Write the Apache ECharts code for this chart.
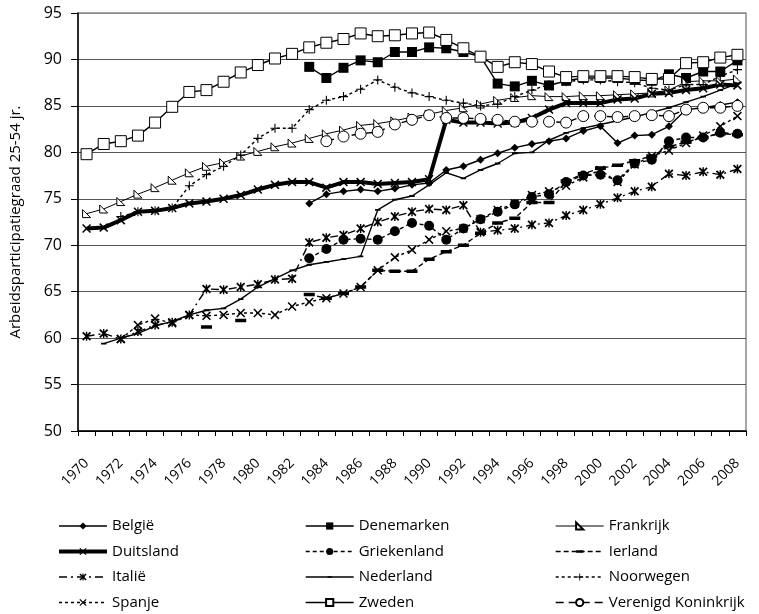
<!DOCTYPE html>
<html><head><meta charset="utf-8">
<script src="https://cdn.jsdelivr.net/npm/echarts@6/dist/echarts.min.js"></script>
<style>html,body{margin:0;padding:0;background:#fff}#c{width:759px;height:614px}</style>
</head><body><div id="c"></div><script>
const years = ['1970','1971','1972','1973','1974','1975','1976','1977','1978','1979','1980','1981','1982','1983','1984','1985','1986','1987','1988','1989','1990','1991','1992','1993','1994','1995','1996','1997','1998','1999','2000','2001','2002','2003','2004','2005','2006','2007','2008'];
const N = null;
const belgie = [N,N,N,N,N,N,N,N,N,N,N,N,N, 74.5,75.5,75.8,76.0,75.8,76.1,76.5,76.7,78.1,78.5,79.2,79.9,80.5, 80.9,81.2,81.5,82.3,82.8,81.0,81.8,81.9,82.8,84.6,84.8,85.1,85.4];
const denemarken = [N,N,N,N,N,N,N,N,N,N,N,N,N, 89.2,88.0,89.1,89.9,89.7,90.8,90.8,91.3,91.2,90.8,90.3,87.4,87.1, 87.7,87.2,87.7,88.0,88.0,88.0,87.8,87.7,88.4,88.0,88.7,88.7,89.9];
const frankrijk = [73.4,73.9,74.7,75.5,76.2,77.0,77.8,78.5,78.9,79.6,80.1,80.6,81.0, 81.5,82.0,82.4,82.9,83.1,83.4,83.8,84.1,84.5,84.8,85.2,85.6,85.9, 86.1,86.0,86.0,86.1,86.1,86.2,86.3,86.4,86.7,87.6,87.7,87.7,87.9];
const duitsland = [71.8,71.9,72.7,73.6,73.7,74.0,74.5,74.7,75.0,75.4,76.0,76.5,76.8, 76.8,76.2,76.8,76.8,76.6,76.7,76.8,77.1,83.5,83.2,83.2,83.1,83.2, 83.7,84.6,85.3,85.3,85.3,85.7,85.8,86.3,86.4,86.7,86.9,87.3,87.2];
const griekenland = [N,N,N,N,N,N,N,N,N,N,N,N,N, 68.6,69.6,70.6,70.7,70.6,71.5,72.4,72.1,70.6,71.8,72.8,73.6,74.4, 75.2,75.5,76.8,77.5,77.6,77.0,78.8,79.2,81.2,81.6,81.6,82.1,82.0];
const ierland = [N,N,N,N,N,N,N,61.2,N,61.9,N,N,N, 64.7,64.3,64.8,65.5,67.3,67.2,67.2,68.5,69.3,70.0,71.3,72.4,72.9, 74.6,74.6,76.9,77.7,78.3,78.6,79.1,79.6,80.6,81.1,81.6,82.0,81.9];
const italie = [60.2,60.5,59.9,60.7,61.4,61.7,62.5,65.3,65.2,65.5,65.8,66.3,66.4, 70.3,70.8,71.1,71.8,72.5,73.1,73.6,73.9,73.8,74.3,71.4,71.6,71.8, 72.2,72.4,73.2,73.8,74.4,75.1,75.8,76.3,77.7,77.5,77.9,77.6,78.2];
const nederland = [N,59.4,60.0,60.5,61.3,61.8,62.5,63.0,63.2,64.2,65.5,66.4,67.3, 67.9,68.2,68.5,68.8,73.8,74.9,75.3,76.5,77.8,77.2,78.1,78.8,79.9, 80.0,81.3,82.1,82.6,83.0,83.4,83.8,84.3,84.8,85.4,86.0,86.7,87.4];
const noorwegen = [N,N,73.1,73.6,73.7,74.0,76.4,77.6,78.5,79.7,81.5,82.6,82.6, 84.6,85.6,86.0,86.8,87.8,87.0,86.4,86.0,85.6,85.3,85.0,85.2,86.0, 86.7,87.3,87.6,87.8,87.8,87.6,87.5,86.9,86.7,87.3,87.3,88.2,88.9];
const spanje = [N,N,59.9,61.4,62.1,61.6,62.5,62.4,62.5,62.7,62.7,62.5,63.4, 63.9,64.3,64.8,65.5,67.3,68.7,69.5,70.6,71.5,71.8,72.8,73.8,74.5, 75.4,75.8,76.4,77.3,78.1,76.8,78.7,79.6,80.2,81.0,81.8,82.8,83.9];
const zweden = [79.8,80.9,81.2,81.8,83.2,84.9,86.5,86.7,87.6,88.6,89.4,90.1,90.6, 91.3,91.8,92.2,92.8,92.5,92.6,92.8,92.9,92.1,91.2,90.3,89.2,89.7, 89.5,88.7,88.1,88.2,88.2,88.2,88.1,87.9,87.9,89.6,89.7,90.2,90.5];
const vk = [N,N,N,N,N,N,N,N,N,N,N,N,N,N, 81.2,81.7,82.0,82.2,83.0,83.5,84.0,83.7,83.7,83.6,83.5,83.3, 83.3,83.3,83.2,83.9,83.9,83.8,83.9,84.0,83.9,84.6,84.8,84.8,85.0];
const yTicks = [50,55,60,65,70,75,80,85,90,95];
const yName = 'Arbeidsparticipatiegraad 25-54 jr.';

const FONT = 'Open Sans';
// invisible corner points keep path bounding boxes square
const BOX = ' M0,0 L0,0 Z M10,10 L10,10 Z';
const X_PATH = 'path://M0,1.2 L1.2,0 L5,3.8 L8.8,0 L10,1.2 L6.2,5 L10,8.8 L8.8,10 L5,6.2 L1.2,10 L0,8.8 L3.8,5 Z';
const PLUS_PATH = 'path://M4.4,0 L5.6,0 L5.6,4.4 L10,4.4 L10,5.6 L5.6,5.6 L5.6,10 L4.4,10 L4.4,5.6 L0,5.6 L0,4.4 L4.4,4.4 Z';
const AST_PATH = 'path://M0,1.4 L1.4,0 L5,3.6 L8.6,0 L10,1.4 L6.4,5 L10,8.6 L8.6,10 L5,6.4 L1.4,10 L0,8.6 L3.6,5 Z M4.2,0 L5.8,0 L5.8,10 L4.2,10 Z';
const TRI_PATH = 'path://M0,0 L10,10 L0,10 Z';
const BAR_PATH = 'path://M0,3.4 L10,3.4 L10,6.6 L0,6.6 Z' + BOX;
const SMALLBAR_PATH = 'path://M2,4 L8,4 L8,6 L2,6 Z' + BOX;

function mk(name, data, o) {
  return {
    name, type: 'line', data, connectNulls: false,
    showSymbol: true, showAllSymbol: true,
    symbol: o.symbol, symbolSize: o.size,
    lineStyle: { color: '#000', width: o.w || 1.4, type: o.dash || 'solid' },
    itemStyle: o.open ? { color: '#fff', borderColor: '#000', borderWidth: 1 } : { color: '#000', borderWidth: 0 },
    emphasis: { disabled: true },
    animation: false,
    z: o.z || 2
  };
}

const series = [
  mk('België', belgie, { symbol: 'diamond', size: 8 }),
  mk('Denemarken', denemarken, { symbol: 'rect', size: 10 }),
  mk('Frankrijk', frankrijk, { symbol: TRI_PATH, size: 8, open: true, w: 1 }),
  mk('Duitsland', duitsland, { symbol: X_PATH, size: 9, w: 4 }),
  mk('Griekenland', griekenland, { symbol: 'circle', size: 10, dash: [4, 3] }),
  mk('Ierland', ierland, { symbol: BAR_PATH, size: 11, dash: [5, 3] }),
  mk('Italië', italie, { symbol: AST_PATH, size: 9, dash: [8, 4, 2, 4] }),
  mk('Nederland', nederland, { symbol: SMALLBAR_PATH, size: 9 }),
  mk('Noorwegen', noorwegen, { symbol: PLUS_PATH, size: 9, dash: [3, 3] }),
  mk('Spanje', spanje, { symbol: X_PATH, size: 9, dash: [3, 3] }),
  mk('Zweden', zweden, { symbol: 'rect', size: 11, open: true }),
  mk('Verenigd Koninkrijk', vk, { symbol: 'circle', size: 11, open: true, dash: [8, 5] })
];

function legend(left, names) {
  return {
    orient: 'vertical', left, top: 518, height: 96, padding: 0,
    data: names.map(n => n === 'Duitsland' ? { name: n, lineStyle: { width: 4 } } : { name: n }),
    itemWidth: 48, itemHeight: 9, itemGap: 9.5,
    selectedMode: false,
    lineStyle: { width: 'inherit' },
    textStyle: { fontFamily: FONT, fontSize: 15, lineHeight: 16, color: '#000' }
  };
}

const chart = echarts.init(document.getElementById('c'), null, { renderer: 'canvas' });
chart.setOption({
  animation: false,
  backgroundColor: '#fff',
  grid: { left: 78, right: 13, top: 13, bottom: 183, show: true, borderColor: '#8a8a8a', borderWidth: 1.5, containLabel: false },
  legend: [
    legend(57, ['België', 'Duitsland', 'Italië', 'Spanje']),
    legend(305, ['Denemarken', 'Griekenland', 'Nederland', 'Zweden']),
    legend(555, ['Frankrijk', 'Ierland', 'Noorwegen', 'Verenigd Koninkrijk'])
  ],
  xAxis: {
    type: 'category', data: years, boundaryGap: true,
    axisLine: { lineStyle: { color: '#000', width: 1.5 } },
    axisTick: { show: true, interval: 0, length: 5, lineStyle: { color: '#000' } },
    axisLabel: { interval: 1, rotate: 45, margin: 30, fontFamily: FONT, fontSize: 14, color: '#000' },
    splitLine: { show: false }
  },
  yAxis: {
    type: 'value', min: yTicks[0], max: yTicks[yTicks.length - 1], interval: 5,
    name: yName, nameLocation: 'middle', nameGap: 55, nameRotate: 90,
    nameTextStyle: { fontFamily: FONT, fontSize: 15, color: '#000' },
    axisLine: { show: true, lineStyle: { color: '#000', width: 1.5 } },
    axisTick: { show: true, length: 7, lineStyle: { color: '#000' } },
    axisLabel: { margin: 16, fontFamily: FONT, fontSize: 16, color: '#000' },
    splitLine: { show: true, lineStyle: { color: ['#000','#555','#555','#555','#555','#555','#555','#555','#555','#8a8a8a'], width: 1 } }
  },
  series
});
</script></body></html>
